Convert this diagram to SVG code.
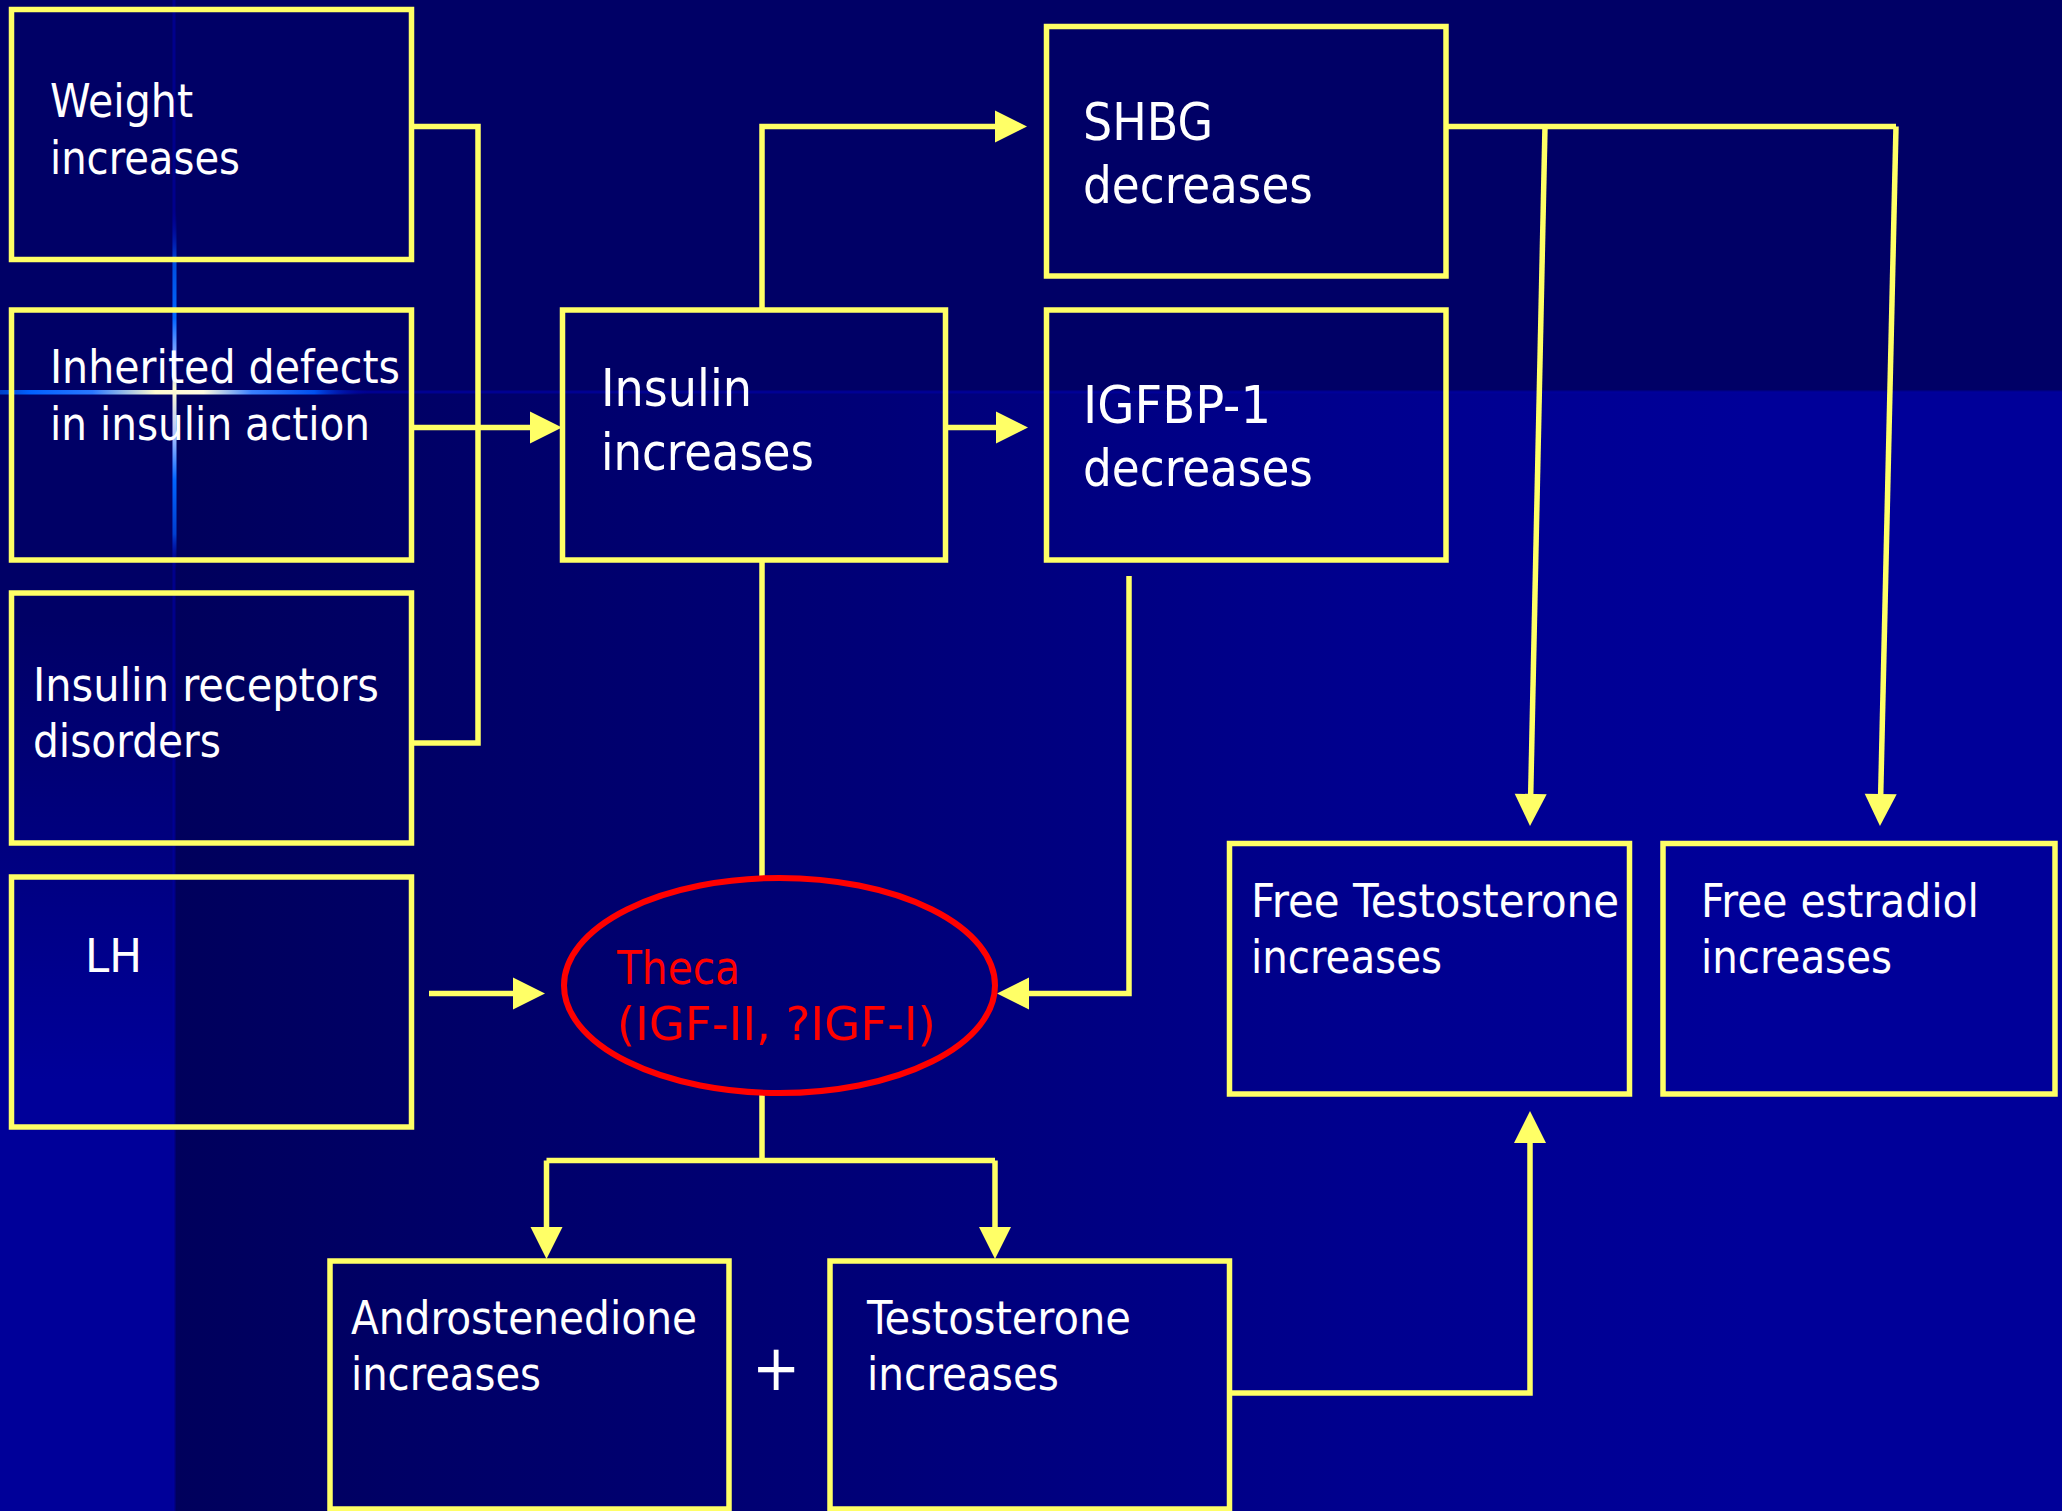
<svg xmlns="http://www.w3.org/2000/svg" width="2062" height="1511" viewBox="0 0 2062 1511">
  <defs>
    <linearGradient id="lowerBg" gradientUnits="userSpaceOnUse" x1="174" y1="0" x2="1750" y2="0">
      <stop offset="0" stop-color="#00005c"/>
      <stop offset="0.15" stop-color="#000066"/>
      <stop offset="0.45" stop-color="#000078"/>
      <stop offset="0.75" stop-color="#00008e"/>
      <stop offset="1" stop-color="#000099"/>
    </linearGradient>
    <linearGradient id="stripBg" gradientUnits="userSpaceOnUse" x1="0" y1="620" x2="0" y2="1080">
      <stop offset="0" stop-color="#000066"/>
      <stop offset="1" stop-color="#000099"/>
    </linearGradient>
    <linearGradient id="flareH" gradientUnits="userSpaceOnUse" x1="0" y1="0" x2="370" y2="0">
      <stop offset="0" stop-color="#0040c8"/>
      <stop offset="0.08" stop-color="#0060ff"/>
      <stop offset="0.25" stop-color="#2a78ff"/>
      <stop offset="0.42" stop-color="#fffbd0"/>
      <stop offset="0.55" stop-color="#fffce0"/>
      <stop offset="0.68" stop-color="#3a80ff"/>
      <stop offset="0.85" stop-color="#0050f0"/>
      <stop offset="1" stop-color="#00009a" stop-opacity="0"/>
    </linearGradient>
    <linearGradient id="flareV" gradientUnits="userSpaceOnUse" x1="0" y1="210" x2="0" y2="570">
      <stop offset="0" stop-color="#0000a0" stop-opacity="0"/>
      <stop offset="0.15" stop-color="#0050e0"/>
      <stop offset="0.3" stop-color="#0066ff"/>
      <stop offset="0.42" stop-color="#9fb8ff"/>
      <stop offset="0.5" stop-color="#fffbd0"/>
      <stop offset="0.62" stop-color="#b0c4ff"/>
      <stop offset="0.75" stop-color="#0066ff"/>
      <stop offset="0.9" stop-color="#0040d0"/>
      <stop offset="1" stop-color="#0000a0" stop-opacity="0"/>
    </linearGradient>
    <marker id="arrow" viewBox="0 -16 32 32" refX="0" refY="0" markerWidth="32" markerHeight="32" markerUnits="userSpaceOnUse" orient="auto" overflow="visible">
      <path d="M0,-16 L32,0 L0,16 Z" fill="#ffff66"/>
    </marker>
    <style>
      .box { fill: none; stroke: #ffff66; stroke-width: 5.5; }
      .link { fill: none; stroke: #ffff66; stroke-width: 5.5; }
      .t { fill: #ffffff; font-family: "DejaVu Sans Condensed", "DejaVu Sans", "Liberation Sans", sans-serif; font-stretch: condensed; font-size: 47px; }
      .big { font-size: 52px; }
      .red { fill: #ff0000; }
    </style>
  </defs>

  <!-- slide background -->
  <g id="background">
    <rect x="0" y="0" width="2062" height="1511" fill="#000066"/>
    <rect x="174" y="392" width="1888" height="1119" fill="url(#lowerBg)"/>
    <rect x="0" y="392" width="174" height="1119" fill="url(#stripBg)"/>
    <rect x="0" y="390.5" width="2062" height="3" fill="#00009c" opacity="0.8"/>
    <rect x="172.5" y="0" width="3" height="1511" fill="#00009c" opacity="0.7"/>
    <rect x="0" y="390" width="370" height="4.5" fill="url(#flareH)"/>
    <rect x="172.5" y="210" width="4" height="360" fill="url(#flareV)"/>
  </g>

  <!-- connectors -->
  <g id="connectors">
    <path class="link" d="M411.5,126.5 H478 V743 H411.5"/>
    <path class="link" d="M411.5,427.5 H530" marker-end="url(#arrow)"/>
    <path class="link" d="M948,427.5 H996" marker-end="url(#arrow)"/>
    <path class="link" d="M762,310 V126.5 H995" marker-end="url(#arrow)"/>
    <path class="link" d="M762,560 V877"/>
    <path class="link" d="M1129,576 V993.5 H1029" marker-end="url(#arrow)"/>
    <path class="link" d="M429,993.5 H513" marker-end="url(#arrow)"/>
    <path class="link" d="M762,1094 V1160.5"/>
    <path class="link" d="M546.5,1160.5 H995"/>
    <path class="link" d="M546.5,1160.5 V1227" marker-end="url(#arrow)"/>
    <path class="link" d="M995,1160.5 V1227" marker-end="url(#arrow)"/>
    <path class="link" d="M1446,126.5 H1896"/>
    <path class="link" d="M1545,126.5 L1530.7,794" marker-end="url(#arrow)"/>
    <path class="link" d="M1896,126.5 L1880.7,794" marker-end="url(#arrow)"/>
    <path class="link" d="M1229.5,1393 H1530 V1143" marker-end="url(#arrow)"/>
  </g>

  <g id="weight">
    <rect class="box" x="11.5" y="9.5" width="400" height="250"/>
    <text class="t" x="50" y="117" textLength="143" lengthAdjust="spacingAndGlyphs">Weight</text>
    <text class="t" x="50" y="174" textLength="190" lengthAdjust="spacingAndGlyphs">increases</text>
  </g>

  <g id="inherited">
    <rect class="box" x="11.5" y="310" width="400" height="250"/>
    <text class="t" x="50" y="383" textLength="350" lengthAdjust="spacingAndGlyphs">Inherited defects</text>
    <text class="t" x="50" y="440" textLength="320" lengthAdjust="spacingAndGlyphs">in insulin action</text>
  </g>

  <g id="receptors">
    <rect class="box" x="11.5" y="593" width="400" height="250"/>
    <text class="t" x="33" y="701" textLength="346" lengthAdjust="spacingAndGlyphs">Insulin receptors</text>
    <text class="t" x="33" y="757" textLength="188" lengthAdjust="spacingAndGlyphs">disorders</text>
  </g>

  <g id="lh">
    <rect class="box" x="11.5" y="877" width="400" height="250"/>
    <text class="t" x="85" y="972" textLength="57" lengthAdjust="spacingAndGlyphs">LH</text>
  </g>

  <g id="insulin">
    <rect class="box" x="562.5" y="310" width="383" height="250"/>
    <text class="t big" x="601" y="406" textLength="151" lengthAdjust="spacingAndGlyphs">Insulin</text>
    <text class="t big" x="601" y="469.5" textLength="213" lengthAdjust="spacingAndGlyphs">increases</text>
  </g>

  <g id="shbg">
    <rect class="box" x="1046.5" y="26.5" width="399.5" height="249.5"/>
    <text class="t big" x="1083" y="140" textLength="130" lengthAdjust="spacingAndGlyphs">SHBG</text>
    <text class="t big" x="1083" y="203" textLength="230" lengthAdjust="spacingAndGlyphs">decreases</text>
  </g>

  <g id="igfbp1">
    <rect class="box" x="1046.5" y="310" width="399.5" height="250"/>
    <text class="t big" x="1083" y="423" textLength="188" lengthAdjust="spacingAndGlyphs">IGFBP-1</text>
    <text class="t big" x="1083" y="486" textLength="230" lengthAdjust="spacingAndGlyphs">decreases</text>
  </g>

  <g id="theca">
    <ellipse cx="779.5" cy="985.5" rx="215.5" ry="107.5" fill="none" stroke="#ff0000" stroke-width="6"/>
    <text class="t red" x="617" y="984" textLength="123" lengthAdjust="spacingAndGlyphs">Theca</text>
    <text class="t red" x="617" y="1040" textLength="319" lengthAdjust="spacingAndGlyphs">(IGF-II, ?IGF-I)</text>
  </g>

  <g id="androstenedione">
    <rect class="box" x="330" y="1261" width="399" height="248"/>
    <text class="t" x="351" y="1334" textLength="346" lengthAdjust="spacingAndGlyphs">Androstenedione</text>
    <text class="t" x="351" y="1389.5" textLength="190" lengthAdjust="spacingAndGlyphs">increases</text>
  </g>

  <text class="t" x="776" y="1390" font-size="64" text-anchor="middle" style="font-size:64px">+</text>

  <g id="testosterone">
    <rect class="box" x="830" y="1261" width="399.5" height="248"/>
    <text class="t" x="867" y="1334" textLength="264" lengthAdjust="spacingAndGlyphs">Testosterone</text>
    <text class="t" x="867" y="1390" textLength="192" lengthAdjust="spacingAndGlyphs">increases</text>
  </g>

  <g id="free-testosterone">
    <rect class="box" x="1229.5" y="843.5" width="400" height="250.5"/>
    <text class="t" x="1251" y="916.5" textLength="368" lengthAdjust="spacingAndGlyphs">Free Testosterone</text>
    <text class="t" x="1251" y="973" textLength="191" lengthAdjust="spacingAndGlyphs">increases</text>
  </g>

  <g id="free-estradiol">
    <rect class="box" x="1663" y="843.5" width="392" height="250.5"/>
    <text class="t" x="1701" y="916.5" textLength="278" lengthAdjust="spacingAndGlyphs">Free estradiol</text>
    <text class="t" x="1701" y="973" textLength="191" lengthAdjust="spacingAndGlyphs">increases</text>
  </g>
</svg>
